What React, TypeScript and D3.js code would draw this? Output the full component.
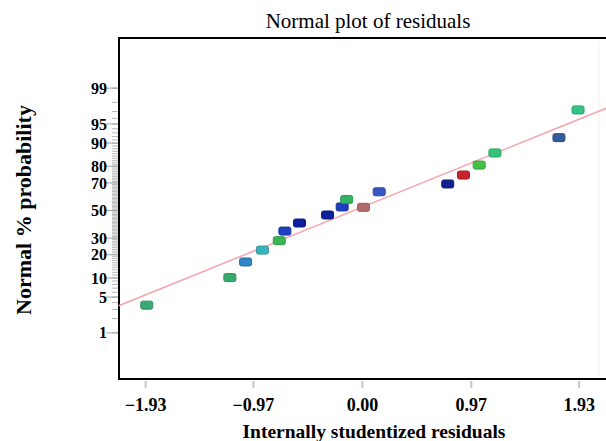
import React from "react";
import * as d3 from "d3";

// residuals (x) and their normal % probability (y)
const residuals = [-1.92, -1.18, -1.04, -0.89, -0.74, -0.69, -0.56, -0.31, -0.18, -0.14, 0.01, 0.15, 0.76, 0.9, 1.04, 1.18, 1.75, 1.92];
const probabilities = [3.6, 10.1, 16.4, 22.6, 28.3, 34.8, 40.6, 46.6, 52.7, 58.3, 52.4, 63.9, 69.3, 75.0, 80.6, 86.3, 91.7, 97.2];
const pointColors = [
  "#3aa872", "#35aa6c", "#2f86c4", "#39b3b8", "#3cb557", "#1d3fc0",
  "#0e1f9e", "#0f1f96", "#1f3fc0", "#33b463", "#b56a6a", "#3556c4",
  "#13228f", "#c8222c", "#43c245", "#35c476", "#335d96", "#34c483",
];

// fitted line end points (residual, %)
const lineResiduals = [-2.17, 2.17];
const lineProbabilities = [3.5, 97.4];

const xTicks = [-1.93, -0.97, 0, 0.97, 1.93];
const yTicks = [1, 5, 10, 20, 30, 50, 70, 80, 90, 95, 99];
const yMinorTicks = d3.range(1, 100);

const W = 606;
const H = 441;
const plot = { left: 119, right: 606, top: 38, bottom: 379 };

// inverse of the standard normal CDF (Acklam)
function probit(p: number): number {
  const a = [-39.69683028665376, 220.9460984245205, -275.9285104469687, 138.357751867269, -30.66479806614716, 2.506628277459239];
  const b = [-54.47609879822406, 161.5858368580409, -155.6989798598866, 66.80131188771972, -13.28068155288572];
  const c = [-0.007784894002430293, -0.3223964580411365, -2.400758277161838, -2.549732539343734, 4.374664141464968, 2.938163982698783];
  const d = [0.007784695709041462, 0.3224671290700398, 2.445134137142996, 3.754408661907416];
  const pl = 0.02425;
  if (p < pl) {
    const q = Math.sqrt(-2 * Math.log(p));
    return (((((c[0] * q + c[1]) * q + c[2]) * q + c[3]) * q + c[4]) * q + c[5]) / ((((d[0] * q + d[1]) * q + d[2]) * q + d[3]) * q + 1);
  }
  if (p > 1 - pl) {
    const q = Math.sqrt(-2 * Math.log(1 - p));
    return -(((((c[0] * q + c[1]) * q + c[2]) * q + c[3]) * q + c[4]) * q + c[5]) / ((((d[0] * q + d[1]) * q + d[2]) * q + d[3]) * q + 1);
  }
  const q = p - 0.5;
  const r = q * q;
  return ((((((a[0] * r + a[1]) * r + a[2]) * r + a[3]) * r + a[4]) * r + a[5]) * q) / (((((b[0] * r + b[1]) * r + b[2]) * r + b[3]) * r + b[4]) * r + 1);
}

const x = d3.scaleLinear().domain([-2.167, 2.169]).range([plot.left, plot.right]);
const z = d3.scaleLinear().domain([-3.203, 3.279]).range([plot.bottom, plot.top]);
const y = (pct: number) => z(probit(pct / 100));

const fmt = d3.format(".2f");
const serif = "'Liberation Serif', 'Times New Roman', serif";

export default function App() {
  const line = d3
    .line<number>()
    .x((d) => x(d))
    .y((_, i) => y(lineProbabilities[i]));

  return (
    <svg width={W} height={H} style={{ position: "absolute", left: 0, top: 0, background: "#fff" }}>
      <text x={368} y={28} textAnchor="middle" fontFamily={serif} fontSize={21}>
        Normal plot of residuals
      </text>

      {/* y ticks */}
      {yMinorTicks.map((p) => (
        <line key={"m" + p} x1={plot.left - 7} x2={plot.left} y1={y(p)} y2={y(p)} stroke="#b8b8b8" strokeWidth={1} />
      ))}
      {yTicks.map((p) => (
        <g key={p}>
          <line x1={plot.left - 13} x2={plot.left} y1={y(p)} y2={y(p)} stroke="#a0a0a0" strokeWidth={1} />
          <text x={107} y={y(p)} dy="0.35em" textAnchor="end" fontFamily={serif} fontWeight="bold" fontSize={16}>
            {p}
          </text>
        </g>
      ))}

      {/* x ticks */}
      {xTicks.map((v) => (
        <g key={v}>
          <line x1={x(v)} x2={x(v)} y1={plot.bottom + 2} y2={plot.bottom + 9} stroke="#c4c4c4" strokeWidth={2} />
          <text x={x(v)} y={411} textAnchor="middle" fontFamily={serif} fontWeight="bold" fontSize={18}>
            {fmt(v)}
          </text>
        </g>
      ))}

      {/* frame */}
      <line x1={plot.left} x2={plot.left} y1={plot.top - 1} y2={plot.bottom + 1} stroke="#000" strokeWidth={2} />
      <line x1={plot.left} x2={plot.right} y1={plot.top} y2={plot.top} stroke="#000" strokeWidth={2} />
      <line x1={plot.left} x2={plot.right} y1={plot.bottom} y2={plot.bottom} stroke="#000" strokeWidth={2} />
      <line x1={599} x2={599} y1={plot.top + 3} y2={plot.bottom - 3} stroke="#f0f0f0" strokeWidth={1} />

      <path d={line(lineResiduals) || ""} fill="none" stroke="#f5a3ab" strokeWidth={1.5} />

      {residuals.map((r, i) => {
        const c = pointColors[i];
        return (
          <rect
            key={i}
            x={x(r) - 6}
            y={y(probabilities[i]) - 4}
            width={12}
            height={8}
            rx={2}
            fill={c}
            stroke={d3.color(c)!.darker(0.5).formatHex()}
            strokeWidth={1}
          />
        );
      })}

      <text x={374} y={438} textAnchor="middle" fontFamily={serif} fontWeight="bold" fontSize={19.5}>
        Internally studentized residuals
      </text>
      <text
        transform={`translate(31,210) rotate(-90)`}
        textAnchor="middle"
        fontFamily={serif}
        fontWeight="bold"
        fontSize={22}
      >
        Normal % probability
      </text>
    </svg>
  );
}
